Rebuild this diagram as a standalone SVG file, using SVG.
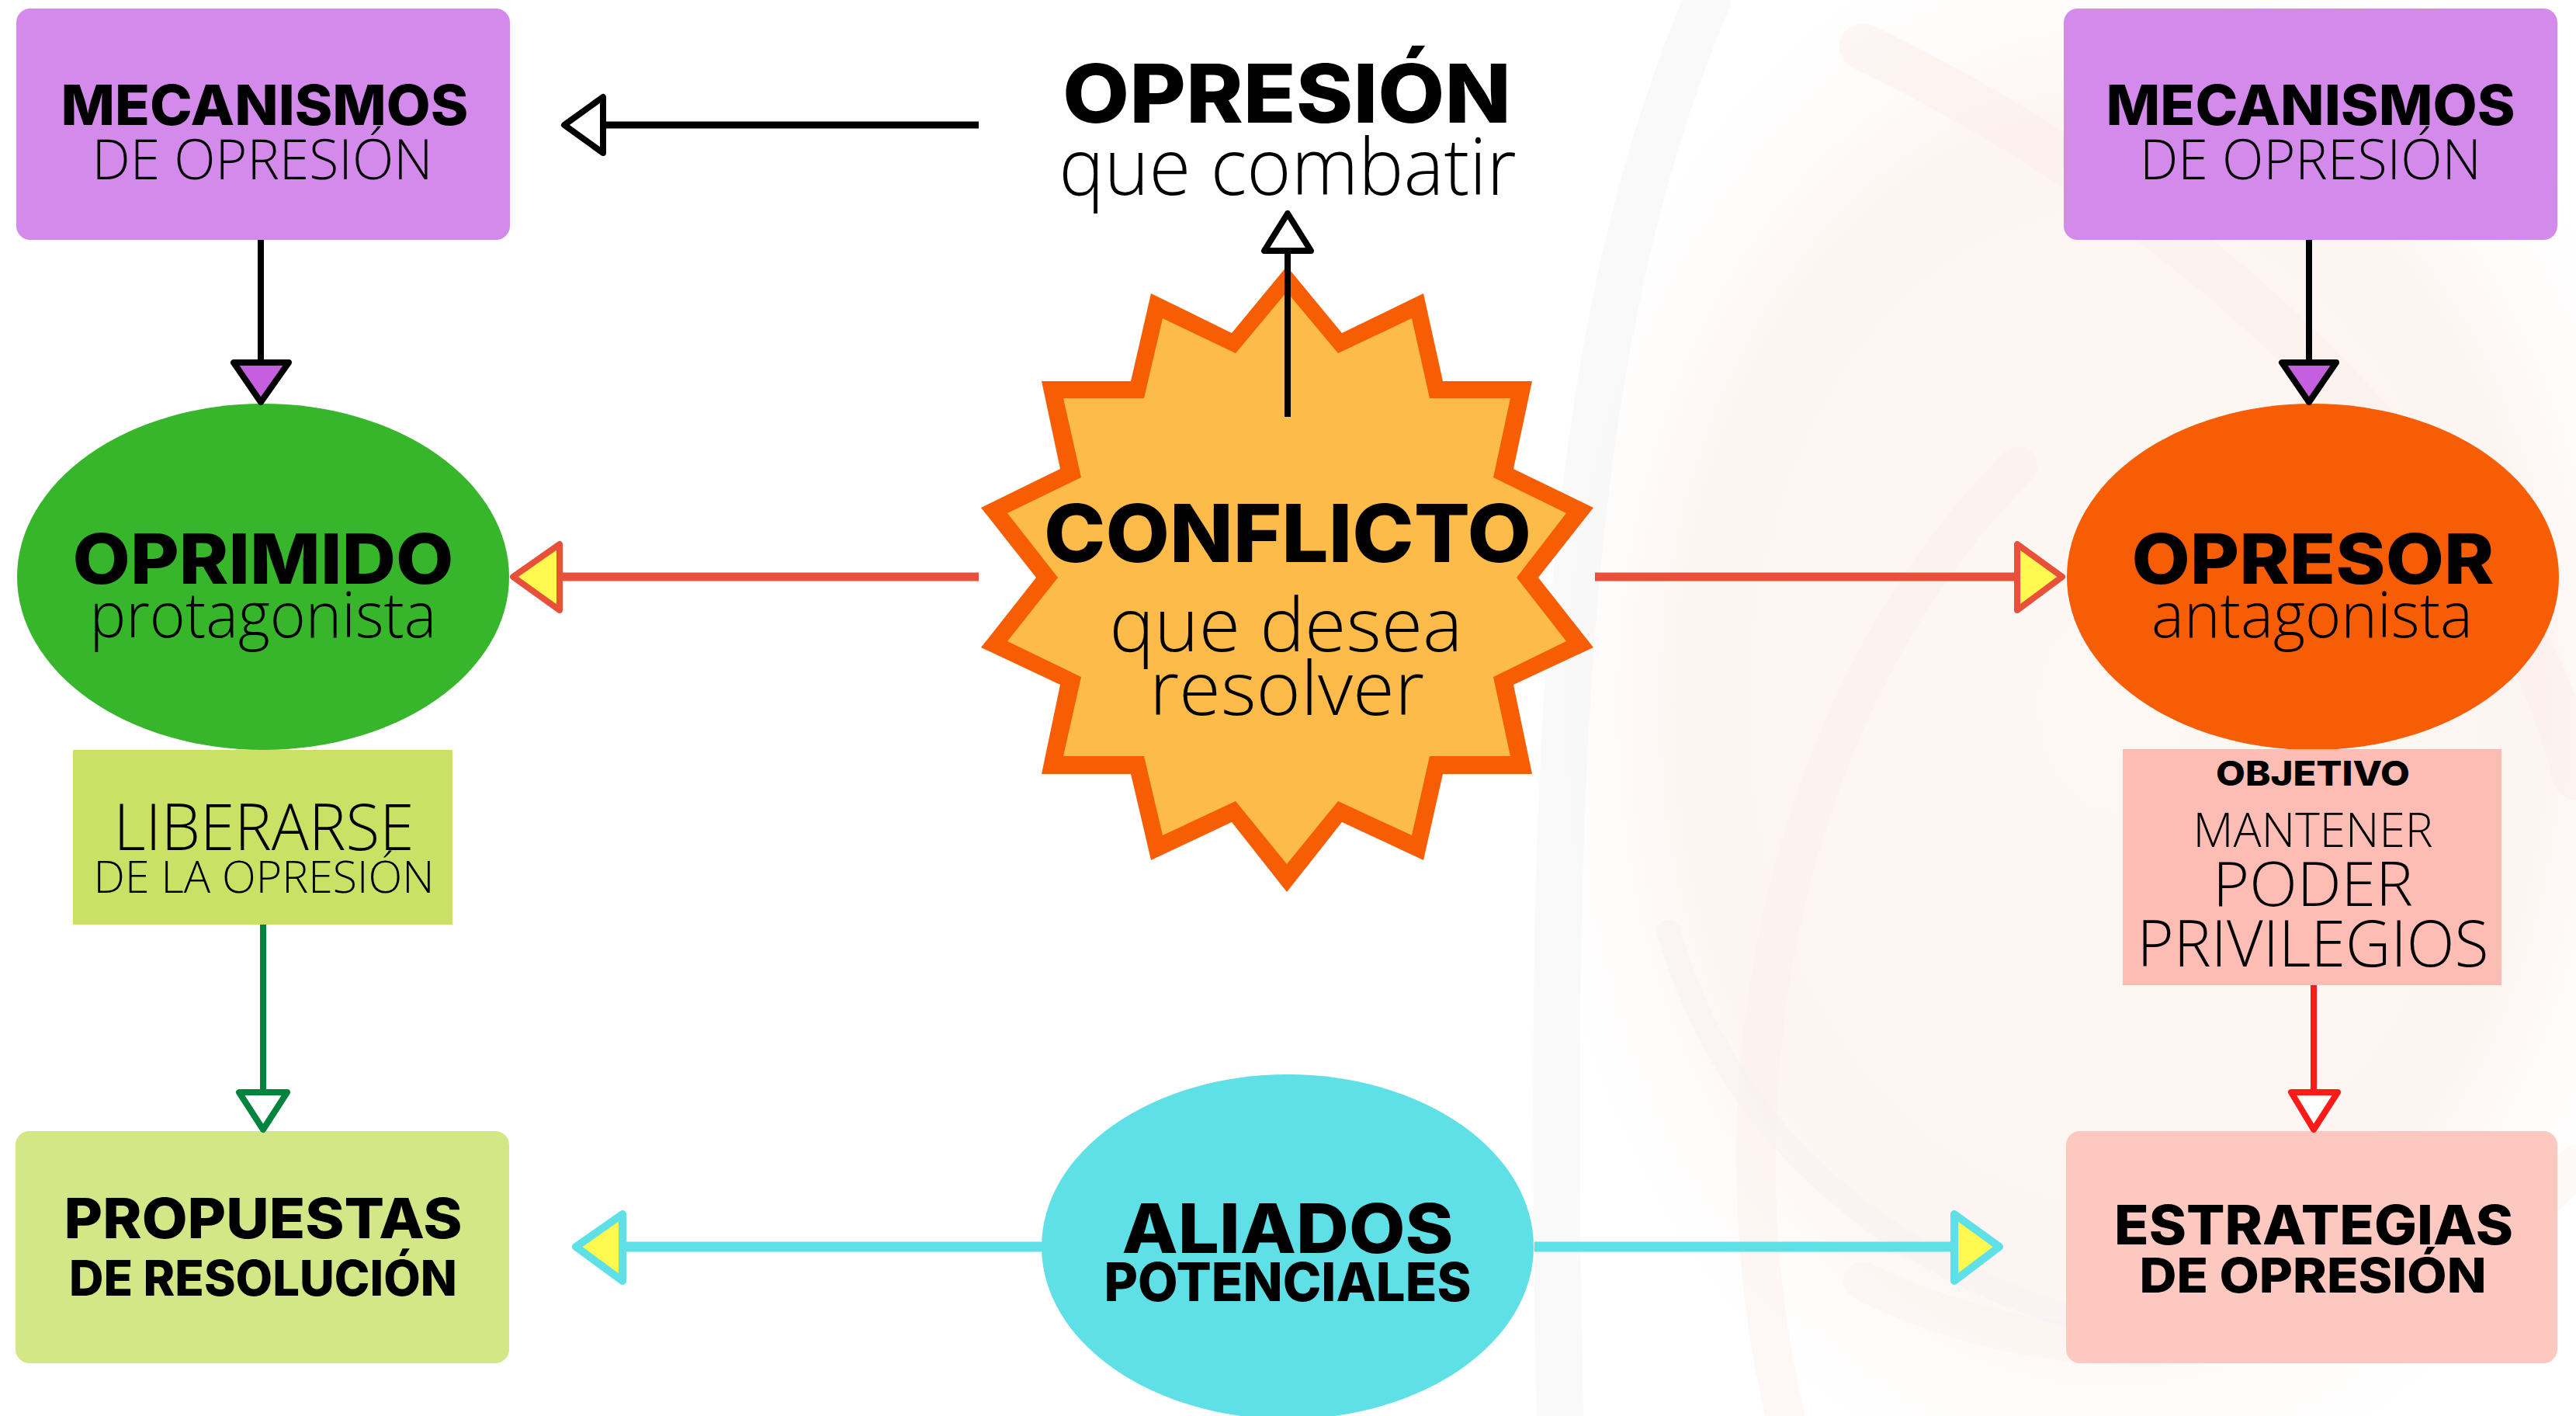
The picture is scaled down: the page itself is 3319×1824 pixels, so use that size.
<svg xmlns="http://www.w3.org/2000/svg" width="3319" height="1824" viewBox="0 0 3319 1824">
<style>
.b{font-family:Inter,"Noto Sans","DejaVu Sans",sans-serif;font-weight:800;fill:#000;text-anchor:middle}
.l{font-family:"Open Sans","Noto Sans","DejaVu Sans",sans-serif;font-weight:300;fill:#000;text-anchor:middle}
.ah{stroke-width:8;stroke-linejoin:round}
.bg{fill:none;stroke-linecap:round}
</style>
<defs>
<radialGradient id="bgG" cx="0.55" cy="0.5" r="0.6">
<stop offset="0" stop-color="#fdf8f4"/>
<stop offset="0.7" stop-color="#fdf5f2"/>
<stop offset="1" stop-color="#ffffff" stop-opacity="0"/>
</radialGradient>
</defs>
<rect width="3319" height="1824" fill="#ffffff"/>
<g id="background">
<path d="M2250 0 C2050 300 1980 800 1990 1300 C2000 1600 2050 1824 2080 1824 L3319 1824 L3319 0 Z" fill="url(#bgG)"/>
<path class="bg" d="M2200 0 C2030 400 1990 900 2010 1824" stroke="#f4f4f4" stroke-width="60" opacity="0.5"/>
<path class="bg" d="M2400 60 C2900 300 3250 700 3319 1000" stroke="#fbeeea" stroke-width="60" opacity="0.5"/>
<path class="bg" d="M2300 1824 C2200 1400 2300 900 2600 600" stroke="#fbf0ec" stroke-width="50" opacity="0.5"/>
<path class="bg" d="M3319 1500 C3100 1750 2700 1800 2400 1650" stroke="#f9f3f0" stroke-width="50" opacity="0.5"/>
<path class="bg" d="M2150 1200 C2250 1550 2600 1760 3050 1740" stroke="#f6f2f1" stroke-width="30" opacity="0.5"/>
</g>
<g id="opresion-title">
<text class="b" x="1658" y="158" font-size="104" textLength="578" lengthAdjust="spacingAndGlyphs">OPRESIÓN</text>
<text class="l" x="1659" y="251" font-size="102" textLength="589" lengthAdjust="spacingAndGlyphs">que combatir</text>
</g>
<g id="mecanismos-izq">
<rect x="21" y="11" width="636" height="298" rx="18" fill="#d48aeb"/>
<text class="b" x="341" y="161" font-size="72" textLength="525" lengthAdjust="spacingAndGlyphs">MECANISMOS</text>
<text class="l" x="338" y="231" font-size="71" textLength="439" lengthAdjust="spacingAndGlyphs">DE OPRESIÓN</text>
</g>
<g id="mecanismos-der">
<rect x="2659" y="11" width="636" height="298" rx="18" fill="#d48aeb"/>
<text class="b" x="2977" y="161" font-size="72" textLength="527" lengthAdjust="spacingAndGlyphs">MECANISMOS</text>
<text class="l" x="2977" y="231" font-size="71" textLength="440" lengthAdjust="spacingAndGlyphs">DE OPRESIÓN</text>
</g>
<g id="oprimido">
<ellipse cx="339" cy="743" rx="317" ry="223" fill="#37b52b"/>
<text class="b" x="339" y="752" font-size="89" textLength="491" lengthAdjust="spacingAndGlyphs">OPRIMIDO</text>
<text class="l" x="339" y="821" font-size="82" textLength="447" lengthAdjust="spacingAndGlyphs">protagonista</text>
</g>
<g id="opresor">
<ellipse cx="2980" cy="743" rx="317" ry="223" fill="#f75d04"/>
<text class="b" x="2980" y="752" font-size="89" textLength="467" lengthAdjust="spacingAndGlyphs">OPRESOR</text>
<text class="l" x="2979" y="821" font-size="82" textLength="414" lengthAdjust="spacingAndGlyphs">antagonista</text>
</g>
<g id="conflicto">
<polygon fill="#f75e04" points="1658,343 1729,429 1834,378 1859,491 1974,491 1950,604 2053,654 1982,744 2053,834 1950,882 1974,997 1859,997 1834,1108 1729,1059 1658,1149 1587,1059 1483,1108 1457,997 1342,997 1366,882 1264,834 1335,744 1264,654 1366,604 1342,491 1457,491 1483,378 1587,429"/>
<polygon fill="#fdbb4a" points="1658,376 1724,455 1819,410 1842,513 1946,513 1924,615 2018,661 1954,744 2018,826 1924,872 1946,974 1842,974 1819,1076 1724,1032 1658,1113 1592,1032 1498,1076 1474,974 1370,974 1393,872 1298,826 1363,744 1298,661 1393,615 1370,513 1474,513 1498,410 1592,455"/>
<text class="b" x="1659" y="724" font-size="103" textLength="628" lengthAdjust="spacingAndGlyphs">CONFLICTO</text>
<text class="l" x="1657" y="839" font-size="96" textLength="455" lengthAdjust="spacingAndGlyphs">que desea</text>
<text class="l" x="1658" y="921" font-size="96" textLength="354" lengthAdjust="spacingAndGlyphs">resolver</text>
</g>
<g id="liberarse">
<rect x="94" y="966" width="489" height="225" fill="#cbe166"/>
<text class="l" x="340" y="1095" font-size="83" textLength="387" lengthAdjust="spacingAndGlyphs">LIBERARSE</text>
<text class="l" x="340" y="1150" font-size="57" textLength="439" lengthAdjust="spacingAndGlyphs">DE LA OPRESIÓN</text>
</g>
<g id="objetivo">
<rect x="2735" y="965" width="488" height="304" fill="#fdbcb4"/>
<text class="b" x="2980" y="1012" font-size="44" textLength="250" lengthAdjust="spacingAndGlyphs">OBJETIVO</text>
<text class="l" x="2980" y="1091" font-size="60" textLength="309" lengthAdjust="spacingAndGlyphs">MANTENER</text>
<text class="l" x="2980" y="1167" font-size="80" textLength="258" lengthAdjust="spacingAndGlyphs">PODER</text>
<text class="l" x="2980" y="1245" font-size="83" textLength="453" lengthAdjust="spacingAndGlyphs">PRIVILEGIOS</text>
</g>
<g id="propuestas">
<rect x="20" y="1457" width="636" height="299" rx="18" fill="#d4e786"/>
<text class="b" x="339" y="1595" font-size="72" textLength="513" lengthAdjust="spacingAndGlyphs">PROPUESTAS</text>
<text class="b" x="339" y="1669" font-size="63" textLength="500" lengthAdjust="spacingAndGlyphs">DE RESOLUCIÓN</text>
</g>
<g id="aliados">
<ellipse cx="1659" cy="1606" rx="317" ry="222" fill="#5ee0e6"/>
<text class="b" x="1659" y="1614" font-size="88" textLength="427" lengthAdjust="spacingAndGlyphs">ALIADOS</text>
<text class="b" x="1659" y="1676" font-size="69" textLength="473" lengthAdjust="spacingAndGlyphs">POTENCIALES</text>
</g>
<g id="estrategias">
<rect x="2662" y="1457" width="633" height="299" rx="18" fill="#fcc8c0"/>
<text class="b" x="2981" y="1603" font-size="70" textLength="514" lengthAdjust="spacingAndGlyphs">ESTRATEGIAS</text>
<text class="b" x="2980" y="1665" font-size="62" textLength="447" lengthAdjust="spacingAndGlyphs">DE OPRESIÓN</text>
</g>
<g id="connectors">
<line x1="1261" y1="161" x2="777" y2="161" stroke="#000" stroke-width="9"/>
<polygon points="727,161 777,125 777,197" fill="#fff" stroke="#000" class="ah"/>
<line x1="336" y1="309" x2="336" y2="467" stroke="#000" stroke-width="8"/>
<polygon points="301,467 372,467 336,518" fill="#c55fe0" stroke="#000" class="ah"/>
<line x1="2975" y1="309" x2="2975" y2="467" stroke="#000" stroke-width="8"/>
<polygon points="2940,467 3010,467 2975,518" fill="#c55fe0" stroke="#000" class="ah"/>
<line x1="1261" y1="743" x2="721" y2="743" stroke="#e8503a" stroke-width="11"/>
<polygon points="661,743 721,701 721,786" fill="#fff94f" stroke="#e8503a" class="ah"/>
<line x1="2055" y1="743" x2="2599" y2="743" stroke="#e8503a" stroke-width="11"/>
<polygon points="2657,743 2599,701 2599,786" fill="#fff94f" stroke="#e8503a" class="ah"/>
<line x1="1659" y1="537" x2="1659" y2="323" stroke="#000" stroke-width="8"/>
<polygon points="1659,275 1629,323 1689,323" fill="#fff" stroke="#000" class="ah"/>
<line x1="339" y1="1191" x2="339" y2="1407" stroke="#00843d" stroke-width="8"/>
<polygon points="308,1407 370,1407 339,1455" fill="#fff" stroke="#00843d" class="ah"/>
<line x1="2981" y1="1269" x2="2981" y2="1407" stroke="#ff1a1a" stroke-width="8"/>
<polygon points="2952,1407 3012,1407 2981,1455" fill="#fff" stroke="#ff1a1a" class="ah"/>
<line x1="1344" y1="1606" x2="802" y2="1606" stroke="#5ee0e6" stroke-width="13"/>
<polygon points="742,1606 802,1564 802,1650" fill="#fff94f" stroke="#5ee0e6" stroke-width="10" stroke-linejoin="round"/>
<line x1="1977" y1="1606" x2="2518" y2="1606" stroke="#5ee0e6" stroke-width="13"/>
<polygon points="2576,1606 2518,1564 2518,1650" fill="#fff94f" stroke="#5ee0e6" stroke-width="10" stroke-linejoin="round"/>
</g>
</svg>
